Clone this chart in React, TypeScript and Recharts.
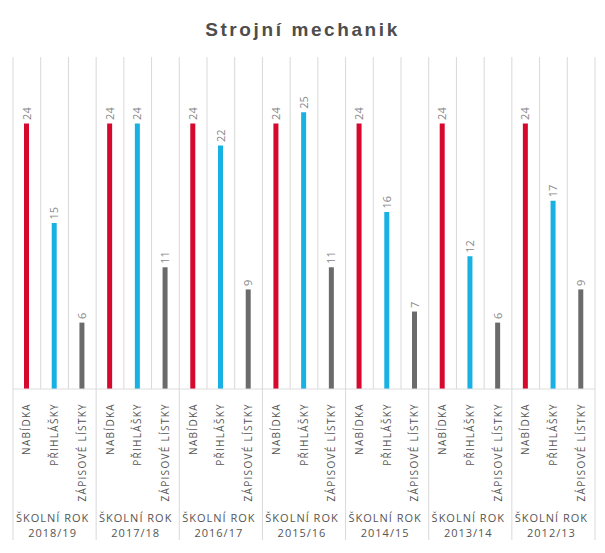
import React from 'react';
import { BarChart, Bar, XAxis, YAxis, CartesianGrid, Cell, LabelList } from 'recharts';

const title = 'Strojní mechanik';
const groups = ['2018/19', '2017/18', '2016/17', '2015/16', '2014/15', '2013/14', '2012/13'];
const groupPrefix = 'ŠKOLNÍ ROK';
const seriesNames = ['NABÍDKA', 'PŘIHLÁŠKY', 'ZÁPISOVÉ LÍSTKY'];
const seriesColors = ['#d6082d', '#17b1e4', '#6b6b6b'];
const nabidka = [24, 24, 24, 24, 24, 24, 24];
const prihlasky = [15, 24, 22, 25, 16, 12, 17];
const zapisove = [6, 11, 9, 11, 7, 6, 9];

const rows = groups.flatMap((g, gi) =>
  [nabidka[gi], prihlasky[gi], zapisove[gi]].map((v, si) => ({
    key: `${gi}-${si}`,
    group: g,
    gi,
    si,
    value: v,
  }))
);

const W = 605;
const H = 553;
const M = { top: 57, right: 10, left: 13, bottom: 0 };
const AXIS_H = 164;
const GRID = '#d9d9d9';
const FONT = '"Open Sans", "Noto Sans", sans-serif';

const CatTick = (props: any) => {
  const { x, y, payload } = props;
  const idx = payload.index ?? props.index;
  const row = rows[idx];
  if (!row) return null;
  const slot = payload.offset ? payload.offset * 2 : (W - M.left - M.right) / rows.length;
  const isLast = idx === rows.length - 1;
  return (
    <g>
      <text
        transform={`translate(${x + 3.5},${y + 14}) rotate(-90)`}
        textAnchor="end"
        fontFamily={FONT}
        fontSize={10}
        letterSpacing={1.3}
        fill="#555"
      >
        {seriesNames[row.si]}
      </text>
      {row.si === 0 && (
        <line x1={x - slot / 2} x2={x - slot / 2} y1={y} y2={y + 151} stroke={GRID} />
      )}
      {isLast && (
        <line x1={x + slot / 2} x2={x + slot / 2} y1={y} y2={y + 151} stroke={GRID} />
      )}
      {row.si === 1 && (
        <g>
          <text x={x - 2} y={y + 133} textAnchor="middle" fontFamily={FONT} fontSize={11} letterSpacing={1} fill="#555">
            {groupPrefix}
          </text>
          <text x={x - 2} y={y + 148} textAnchor="middle" fontFamily={FONT} fontSize={11} letterSpacing={1} fill="#555">
            {row.group}
          </text>
        </g>
      )}
    </g>
  );
};

const ValueLabel = (props: any) => {
  const { x, y, width, value } = props;
  return (
    <text
      transform={`translate(${x + width / 2 + 4},${y - 3.5}) rotate(-90)`}
      textAnchor="start"
      fontFamily={FONT}
      fontSize={11}
      fill="#888"
    >
      {value}
    </text>
  );
};

export default function App() {
  return (
    <div style={{ position: 'absolute', left: 0, top: 0, width: W, height: H, background: '#fff' }}>
      <div
        style={{
          position: 'absolute',
          left: 0,
          top: 18,
          width: W,
          textAlign: 'center',
          fontFamily: '"Liberation Sans", Arial, sans-serif',
          fontWeight: 'bold',
          fontSize: 19,
          letterSpacing: 2.6,
          color: '#4d4d4d',
          lineHeight: '24px',
        }}
      >
        {title}
      </div>
      <BarChart width={W} height={H} data={rows} margin={M} barCategoryGap={0}>
        <CartesianGrid
          horizontal={false}
          stroke={GRID}
          verticalCoordinatesGenerator={({ offset }: any) => {
            const n = rows.length;
            const w = offset.width;
            return Array.from({ length: n + 1 }, (_, i) => offset.left + (i * w) / n);
          }}
        />
        <XAxis
          dataKey="key"
          type="category"
          interval={0}
          height={AXIS_H}
          tickLine={false}
          tickSize={0}
          tickMargin={0}
          axisLine={{ stroke: '#dddddd' }}
          tick={<CatTick />}
        />
        <YAxis hide domain={[0, 30]} />
        <Bar dataKey="value" barSize={5} isAnimationActive={false}>
          {rows.map((r) => (
            <Cell key={r.key} fill={seriesColors[r.si]} />
          ))}
          <LabelList dataKey="value" content={<ValueLabel />} />
        </Bar>
      </BarChart>
    </div>
  );
}
